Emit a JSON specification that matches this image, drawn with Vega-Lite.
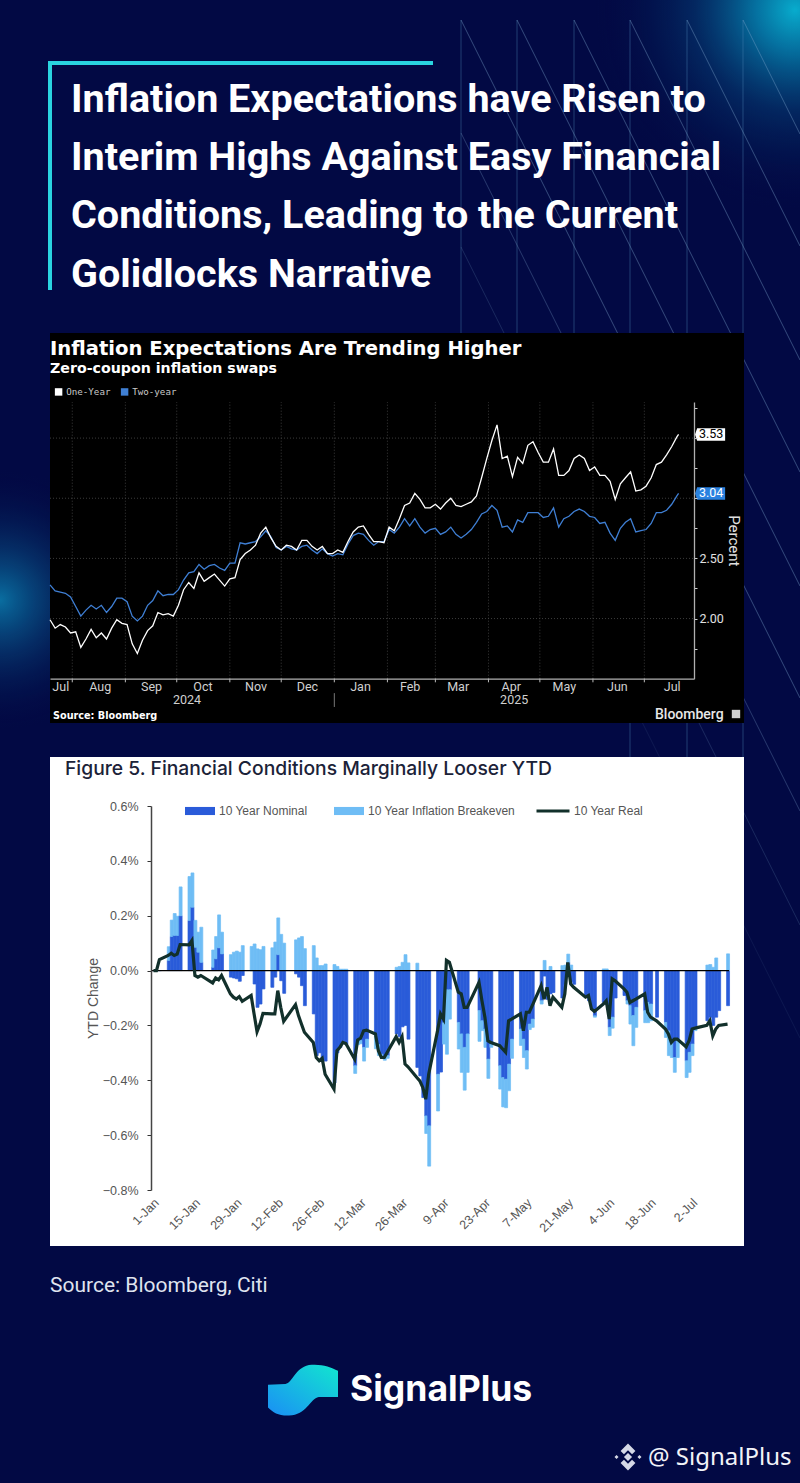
{"$schema":"https://vega.github.io/schema/vega-lite/v6.json","width":800,"height":1483,"padding":0,"autosize":"none","background":"#020944","view":{"stroke":null},
"data":{"values":[{}]},
"datasets":{
"months":[{"date":"2024-08-01"},{"date":"2024-09-01"},{"date":"2024-10-01"},{"date":"2024-11-01"},{"date":"2024-12-01"},{"date":"2025-01-01"},{"date":"2025-02-01"},{"date":"2025-03-01"},{"date":"2025-04-01"},{"date":"2025-05-01"},{"date":"2025-06-01"},{"date":"2025-07-01"}],
"levels":[{"level":2},{"level":2.5},{"level":3},{"level":3.5}],
"tags":[{"series":"One-Year","last":3.53},{"series":"Two-year","last":3.04}],
"swaps":[{"date":"2024-07-19","One-Year":1.99,"Two-year":2.28},{"date":"2024-07-22","One-Year":1.92,"Two-year":2.23},{"date":"2024-07-25","One-Year":1.95,"Two-year":2.22},{"date":"2024-07-28","One-Year":1.93,"Two-year":2.21},{"date":"2024-07-31","One-Year":1.88,"Two-year":2.18},{"date":"2024-08-03","One-Year":1.89,"Two-year":2.10},{"date":"2024-08-06","One-Year":1.76,"Two-year":2.02},{"date":"2024-08-09","One-Year":1.83,"Two-year":2.07},{"date":"2024-08-12","One-Year":1.91,"Two-year":2.11},{"date":"2024-08-15","One-Year":1.84,"Two-year":2.08},{"date":"2024-08-18","One-Year":1.88,"Two-year":2.11},{"date":"2024-08-21","One-Year":1.83,"Two-year":2.05},{"date":"2024-08-24","One-Year":1.92,"Two-year":2.10},{"date":"2024-08-27","One-Year":1.99,"Two-year":2.17},{"date":"2024-08-30","One-Year":1.96,"Two-year":2.17},{"date":"2024-09-02","One-Year":1.95,"Two-year":2.14},{"date":"2024-09-05","One-Year":1.79,"Two-year":2.02},{"date":"2024-09-08","One-Year":1.71,"Two-year":1.98},{"date":"2024-09-11","One-Year":1.82,"Two-year":2.02},{"date":"2024-09-14","One-Year":1.90,"Two-year":2.11},{"date":"2024-09-17","One-Year":1.94,"Two-year":2.15},{"date":"2024-09-20","One-Year":2.05,"Two-year":2.23},{"date":"2024-09-23","One-Year":2.03,"Two-year":2.19},{"date":"2024-09-26","One-Year":2.04,"Two-year":2.20},{"date":"2024-09-29","One-Year":2.02,"Two-year":2.20},{"date":"2024-10-02","One-Year":2.11,"Two-year":2.24},{"date":"2024-10-05","One-Year":2.24,"Two-year":2.32},{"date":"2024-10-08","One-Year":2.30,"Two-year":2.38},{"date":"2024-10-11","One-Year":2.25,"Two-year":2.39},{"date":"2024-10-14","One-Year":2.38,"Two-year":2.45},{"date":"2024-10-17","One-Year":2.31,"Two-year":2.41},{"date":"2024-10-20","One-Year":2.34,"Two-year":2.44},{"date":"2024-10-23","One-Year":2.37,"Two-year":2.45},{"date":"2024-10-26","One-Year":2.32,"Two-year":2.42},{"date":"2024-10-29","One-Year":2.27,"Two-year":2.40},{"date":"2024-11-01","One-Year":2.33,"Two-year":2.46},{"date":"2024-11-04","One-Year":2.34,"Two-year":2.46},{"date":"2024-11-07","One-Year":2.49,"Two-year":2.63},{"date":"2024-11-10","One-Year":2.54,"Two-year":2.62},{"date":"2024-11-13","One-Year":2.57,"Two-year":2.63},{"date":"2024-11-16","One-Year":2.61,"Two-year":2.64},{"date":"2024-11-19","One-Year":2.71,"Two-year":2.68},{"date":"2024-11-22","One-Year":2.76,"Two-year":2.73},{"date":"2024-11-25","One-Year":2.67,"Two-year":2.68},{"date":"2024-11-28","One-Year":2.60,"Two-year":2.59},{"date":"2024-12-01","One-Year":2.57,"Two-year":2.57},{"date":"2024-12-04","One-Year":2.61,"Two-year":2.60},{"date":"2024-12-07","One-Year":2.60,"Two-year":2.58},{"date":"2024-12-10","One-Year":2.57,"Two-year":2.57},{"date":"2024-12-13","One-Year":2.65,"Two-year":2.60},{"date":"2024-12-16","One-Year":2.65,"Two-year":2.61},{"date":"2024-12-19","One-Year":2.60,"Two-year":2.57},{"date":"2024-12-22","One-Year":2.57,"Two-year":2.54},{"date":"2024-12-25","One-Year":2.60,"Two-year":2.58},{"date":"2024-12-28","One-Year":2.54,"Two-year":2.54},{"date":"2024-12-31","One-Year":2.54,"Two-year":2.52},{"date":"2025-01-03","One-Year":2.57,"Two-year":2.54},{"date":"2025-01-06","One-Year":2.55,"Two-year":2.53},{"date":"2025-01-09","One-Year":2.64,"Two-year":2.62},{"date":"2025-01-12","One-Year":2.72,"Two-year":2.69},{"date":"2025-01-15","One-Year":2.76,"Two-year":2.71},{"date":"2025-01-18","One-Year":2.77,"Two-year":2.70},{"date":"2025-01-21","One-Year":2.70,"Two-year":2.65},{"date":"2025-01-24","One-Year":2.64,"Two-year":2.61},{"date":"2025-01-27","One-Year":2.64,"Two-year":2.64},{"date":"2025-01-30","One-Year":2.63,"Two-year":2.64},{"date":"2025-02-02","One-Year":2.76,"Two-year":2.74},{"date":"2025-02-05","One-Year":2.73,"Two-year":2.71},{"date":"2025-02-08","One-Year":2.83,"Two-year":2.76},{"date":"2025-02-11","One-Year":2.94,"Two-year":2.83},{"date":"2025-02-14","One-Year":2.96,"Two-year":2.77},{"date":"2025-02-17","One-Year":3.04,"Two-year":2.83},{"date":"2025-02-20","One-Year":2.99,"Two-year":2.76},{"date":"2025-02-23","One-Year":2.92,"Two-year":2.71},{"date":"2025-02-26","One-Year":2.92,"Two-year":2.74},{"date":"2025-03-01","One-Year":2.95,"Two-year":2.75},{"date":"2025-03-04","One-Year":2.91,"Two-year":2.70},{"date":"2025-03-07","One-Year":2.96,"Two-year":2.72},{"date":"2025-03-10","One-Year":3.00,"Two-year":2.76},{"date":"2025-03-13","One-Year":2.94,"Two-year":2.70},{"date":"2025-03-16","One-Year":2.93,"Two-year":2.67},{"date":"2025-03-19","One-Year":2.95,"Two-year":2.70},{"date":"2025-03-22","One-Year":2.97,"Two-year":2.74},{"date":"2025-03-25","One-Year":3.02,"Two-year":2.80},{"date":"2025-03-28","One-Year":3.17,"Two-year":2.87},{"date":"2025-03-31","One-Year":3.33,"Two-year":2.89},{"date":"2025-04-03","One-Year":3.48,"Two-year":2.94},{"date":"2025-04-06","One-Year":3.61,"Two-year":2.90},{"date":"2025-04-09","One-Year":3.33,"Two-year":2.76},{"date":"2025-04-12","One-Year":3.35,"Two-year":2.77},{"date":"2025-04-15","One-Year":3.18,"Two-year":2.72},{"date":"2025-04-18","One-Year":3.34,"Two-year":2.82},{"date":"2025-04-21","One-Year":3.29,"Two-year":2.80},{"date":"2025-04-24","One-Year":3.44,"Two-year":2.88},{"date":"2025-04-27","One-Year":3.47,"Two-year":2.88},{"date":"2025-04-30","One-Year":3.38,"Two-year":2.88},{"date":"2025-05-03","One-Year":3.30,"Two-year":2.84},{"date":"2025-05-06","One-Year":3.30,"Two-year":2.85},{"date":"2025-05-09","One-Year":3.41,"Two-year":2.92},{"date":"2025-05-12","One-Year":3.19,"Two-year":2.76},{"date":"2025-05-15","One-Year":3.19,"Two-year":2.83},{"date":"2025-05-18","One-Year":3.23,"Two-year":2.85},{"date":"2025-05-21","One-Year":3.33,"Two-year":2.89},{"date":"2025-05-24","One-Year":3.36,"Two-year":2.91},{"date":"2025-05-27","One-Year":3.33,"Two-year":2.89},{"date":"2025-05-30","One-Year":3.23,"Two-year":2.85},{"date":"2025-06-02","One-Year":3.26,"Two-year":2.84},{"date":"2025-06-05","One-Year":3.19,"Two-year":2.79},{"date":"2025-06-08","One-Year":3.19,"Two-year":2.80},{"date":"2025-06-11","One-Year":3.14,"Two-year":2.71},{"date":"2025-06-14","One-Year":2.99,"Two-year":2.65},{"date":"2025-06-17","One-Year":3.12,"Two-year":2.75},{"date":"2025-06-20","One-Year":3.17,"Two-year":2.80},{"date":"2025-06-23","One-Year":3.22,"Two-year":2.83},{"date":"2025-06-26","One-Year":3.06,"Two-year":2.72},{"date":"2025-06-29","One-Year":3.07,"Two-year":2.73},{"date":"2025-07-02","One-Year":3.10,"Two-year":2.74},{"date":"2025-07-05","One-Year":3.17,"Two-year":2.79},{"date":"2025-07-08","One-Year":3.28,"Two-year":2.88},{"date":"2025-07-11","One-Year":3.30,"Two-year":2.88},{"date":"2025-07-14","One-Year":3.36,"Two-year":2.90},{"date":"2025-07-17","One-Year":3.43,"Two-year":2.95},{"date":"2025-07-20","One-Year":3.51,"Two-year":3.02},{"date":"2025-07-21","One-Year":3.53,"Two-year":3.04}],
"ytd":[{"date":"2025-01-01","Nominal":0,"Breakeven":0,"Real":0},{"date":"2025-01-02","Nominal":0,"Breakeven":0,"Real":0},{"date":"2025-01-03","Nominal":0,"Breakeven":0,"Real":0.04},{"date":"2025-01-06","Nominal":0.037,"Breakeven":0.05,"Real":0.055},{"date":"2025-01-07","Nominal":0.124,"Breakeven":0.06,"Real":0.063},{"date":"2025-01-08","Nominal":0.128,"Breakeven":0.08,"Real":0.055},{"date":"2025-01-09","Nominal":0.128,"Breakeven":0.07,"Real":0.06},{"date":"2025-01-10","Nominal":0.2,"Breakeven":0.105,"Real":0.095},{"date":"2025-01-13","Nominal":0.183,"Breakeven":0.16,"Real":0.094},{"date":"2025-01-14","Nominal":0.231,"Breakeven":0.125,"Real":0.11},{"date":"2025-01-15","Nominal":0.085,"Breakeven":0.098,"Real":-0.018},{"date":"2025-01-16","Nominal":0.067,"Breakeven":0.073,"Real":-0.024},{"date":"2025-01-17","Nominal":0.03,"Breakeven":0.128,"Real":-0.018},{"date":"2025-01-21","Nominal":0.012,"Breakeven":0.063,"Real":-0.045},{"date":"2025-01-22","Nominal":0.043,"Breakeven":0.081,"Real":-0.027},{"date":"2025-01-23","Nominal":0.083,"Breakeven":0.12,"Real":-0.034},{"date":"2025-01-24","Nominal":0.061,"Breakeven":0.079,"Real":-0.018},{"date":"2025-01-27","Nominal":-0.024,"Breakeven":0.058,"Real":-0.085},{"date":"2025-01-28","Nominal":-0.027,"Breakeven":0.067,"Real":-0.097},{"date":"2025-01-29","Nominal":-0.03,"Breakeven":0.071,"Real":-0.104},{"date":"2025-01-30","Nominal":-0.039,"Breakeven":0.067,"Real":-0.095},{"date":"2025-01-31","Nominal":-0.018,"Breakeven":0.091,"Real":-0.112},{"date":"2025-02-03","Nominal":0,"Breakeven":0.088,"Real":-0.091},{"date":"2025-02-04","Nominal":-0.049,"Breakeven":0.097,"Real":-0.158},{"date":"2025-02-05","Nominal":-0.134,"Breakeven":0.079,"Real":-0.223},{"date":"2025-02-06","Nominal":-0.122,"Breakeven":0.076,"Real":-0.195},{"date":"2025-02-07","Nominal":-0.067,"Breakeven":0.088,"Real":-0.156},{"date":"2025-02-10","Nominal":-0.061,"Breakeven":0.083,"Real":-0.158},{"date":"2025-02-11","Nominal":-0.024,"Breakeven":0.104,"Real":-0.158},{"date":"2025-02-12","Nominal":0.058,"Breakeven":0.134,"Real":-0.073},{"date":"2025-02-13","Nominal":-0.037,"Breakeven":0.132,"Real":-0.134},{"date":"2025-02-14","Nominal":-0.083,"Breakeven":0.1,"Real":-0.185},{"date":"2025-02-18","Nominal":-0.012,"Breakeven":0.112,"Real":-0.124},{"date":"2025-02-19","Nominal":-0.024,"Breakeven":0.119,"Real":-0.164},{"date":"2025-02-20","Nominal":-0.055,"Breakeven":0.124,"Real":-0.195},{"date":"2025-02-21","Nominal":-0.128,"Breakeven":0.08,"Real":-0.225},{"date":"2025-02-24","Nominal":-0.158,"Breakeven":0.091,"Real":-0.262},{"date":"2025-02-25","Nominal":-0.31,"Breakeven":0.046,"Real":-0.317},{"date":"2025-02-26","Nominal":-0.3,"Breakeven":0.018,"Real":-0.329},{"date":"2025-02-27","Nominal":-0.325,"Breakeven":0.018,"Real":-0.32},{"date":"2025-02-28","Nominal":-0.33,"Breakeven":0.024,"Real":-0.378},{"date":"2025-03-03","Nominal":-0.41,"Breakeven":0.022,"Real":-0.432},{"date":"2025-03-04","Nominal":-0.3,"Breakeven":0.015,"Real":-0.292},{"date":"2025-03-05","Nominal":-0.28,"Breakeven":0.005,"Real":-0.28},{"date":"2025-03-06","Nominal":-0.26,"Breakeven":0.005,"Real":-0.262},{"date":"2025-03-07","Nominal":-0.27,"Breakeven":0.005,"Real":-0.266},{"date":"2025-03-10","Nominal":-0.347,"Breakeven":-0.028,"Real":-0.323},{"date":"2025-03-11","Nominal":-0.26,"Breakeven":-0.01,"Real":-0.253},{"date":"2025-03-12","Nominal":-0.255,"Breakeven":-0.012,"Real":-0.246},{"date":"2025-03-13","Nominal":-0.28,"Breakeven":-0.05,"Real":-0.22},{"date":"2025-03-14","Nominal":-0.25,"Breakeven":-0.03,"Real":-0.217},{"date":"2025-03-17","Nominal":-0.235,"Breakeven":-0.05,"Real":-0.231},{"date":"2025-03-18","Nominal":-0.27,"Breakeven":-0.04,"Real":-0.292},{"date":"2025-03-19","Nominal":-0.305,"Breakeven":-0.015,"Real":-0.317},{"date":"2025-03-20","Nominal":-0.315,"Breakeven":-0.012,"Real":-0.317},{"date":"2025-03-21","Nominal":-0.31,"Breakeven":-0.01,"Real":-0.298},{"date":"2025-03-24","Nominal":-0.231,"Breakeven":0.012,"Real":-0.241},{"date":"2025-03-25","Nominal":-0.241,"Breakeven":0.015,"Real":-0.262},{"date":"2025-03-26","Nominal":-0.205,"Breakeven":0.03,"Real":-0.241},{"date":"2025-03-27","Nominal":-0.2,"Breakeven":0.058,"Real":-0.341},{"date":"2025-03-28","Nominal":-0.25,"Breakeven":0.028,"Real":-0.351},{"date":"2025-03-31","Nominal":-0.353,"Breakeven":0.027,"Real":-0.39},{"date":"2025-04-01","Nominal":-0.384,"Breakeven":0,"Real":-0.402},{"date":"2025-04-02","Nominal":-0.463,"Breakeven":0,"Real":-0.426},{"date":"2025-04-03","Nominal":-0.53,"Breakeven":-0.064,"Real":-0.469},{"date":"2025-04-04","Nominal":-0.566,"Breakeven":-0.147,"Real":-0.378},{"date":"2025-04-07","Nominal":-0.378,"Breakeven":-0.134,"Real":-0.219},{"date":"2025-04-08","Nominal":-0.37,"Breakeven":0,"Real":-0.158},{"date":"2025-04-09","Nominal":-0.19,"Breakeven":-0.078,"Real":-0.177},{"date":"2025-04-10","Nominal":-0.07,"Breakeven":-0.235,"Real":0.037},{"date":"2025-04-11","Nominal":-0.07,"Breakeven":-0.107,"Real":0.03},{"date":"2025-04-14","Nominal":-0.189,"Breakeven":-0.097,"Real":-0.079},{"date":"2025-04-15","Nominal":-0.231,"Breakeven":-0.14,"Real":-0.085},{"date":"2025-04-16","Nominal":-0.28,"Breakeven":-0.156,"Real":-0.134},{"date":"2025-04-17","Nominal":-0.231,"Breakeven":-0.14,"Real":-0.134},{"date":"2025-04-21","Nominal":-0.146,"Breakeven":-0.112,"Real":-0.043},{"date":"2025-04-22","Nominal":-0.183,"Breakeven":-0.036,"Real":-0.11},{"date":"2025-04-23","Nominal":-0.213,"Breakeven":-0.067,"Real":-0.17},{"date":"2025-04-24","Nominal":-0.323,"Breakeven":-0.07,"Real":-0.256},{"date":"2025-04-25","Nominal":-0.268,"Breakeven":-0.012,"Real":-0.262},{"date":"2025-04-28","Nominal":-0.347,"Breakeven":-0.085,"Real":-0.274},{"date":"2025-04-29","Nominal":-0.39,"Breakeven":-0.107,"Real":-0.286},{"date":"2025-04-30","Nominal":-0.396,"Breakeven":-0.104,"Real":-0.298},{"date":"2025-05-01","Nominal":-0.341,"Breakeven":-0.097,"Real":-0.183},{"date":"2025-05-02","Nominal":-0.25,"Breakeven":-0.07,"Real":-0.177},{"date":"2025-05-05","Nominal":-0.213,"Breakeven":-0.06,"Real":-0.158},{"date":"2025-05-06","Nominal":-0.25,"Breakeven":-0.067,"Real":-0.219},{"date":"2025-05-07","Nominal":-0.292,"Breakeven":-0.067,"Real":-0.152},{"date":"2025-05-08","Nominal":-0.195,"Breakeven":-0.02,"Real":-0.152},{"date":"2025-05-09","Nominal":-0.177,"Breakeven":-0.03,"Real":-0.128},{"date":"2025-05-12","Nominal":-0.11,"Breakeven":-0.012,"Real":-0.055},{"date":"2025-05-13","Nominal":-0.02,"Breakeven":0.037,"Real":-0.104},{"date":"2025-05-14","Nominal":-0.105,"Breakeven":0,"Real":-0.061},{"date":"2025-05-15","Nominal":-0.085,"Breakeven":0.015,"Real":-0.128},{"date":"2025-05-16","Nominal":-0.08,"Breakeven":0,"Real":-0.097},{"date":"2025-05-19","Nominal":-0.1,"Breakeven":0.018,"Real":-0.134},{"date":"2025-05-20","Nominal":-0.05,"Breakeven":0.02,"Real":-0.085},{"date":"2025-05-21","Nominal":0.03,"Breakeven":0.03,"Real":0.03},{"date":"2025-05-22","Nominal":-0.04,"Breakeven":0.02,"Real":-0.049},{"date":"2025-05-23","Nominal":-0.05,"Breakeven":0,"Real":-0.061},{"date":"2025-05-27","Nominal":-0.09,"Breakeven":0,"Real":-0.097},{"date":"2025-05-28","Nominal":-0.11,"Breakeven":0,"Real":-0.091},{"date":"2025-05-29","Nominal":-0.14,"Breakeven":0,"Real":-0.14},{"date":"2025-05-30","Nominal":-0.165,"Breakeven":-0.005,"Real":-0.149},{"date":"2025-06-02","Nominal":-0.116,"Breakeven":0.006,"Real":-0.122},{"date":"2025-06-03","Nominal":-0.122,"Breakeven":0.006,"Real":-0.11},{"date":"2025-06-04","Nominal":-0.207,"Breakeven":-0.03,"Real":-0.177},{"date":"2025-06-05","Nominal":-0.17,"Breakeven":-0.04,"Real":-0.03},{"date":"2025-06-06","Nominal":-0.1,"Breakeven":0,"Real":-0.037},{"date":"2025-06-09","Nominal":-0.091,"Breakeven":0,"Real":-0.067},{"date":"2025-06-10","Nominal":-0.11,"Breakeven":-0.012,"Real":-0.079},{"date":"2025-06-11","Nominal":-0.128,"Breakeven":-0.067,"Real":-0.116},{"date":"2025-06-12","Nominal":-0.164,"Breakeven":-0.11,"Real":-0.11},{"date":"2025-06-13","Nominal":-0.134,"Breakeven":-0.073,"Real":-0.104},{"date":"2025-06-16","Nominal":-0.146,"Breakeven":-0.044,"Real":-0.085},{"date":"2025-06-17","Nominal":-0.116,"Breakeven":-0.074,"Real":-0.152},{"date":"2025-06-18","Nominal":-0.122,"Breakeven":-0.061,"Real":-0.17},{"date":"2025-06-20","Nominal":-0.17,"Breakeven":0,"Real":-0.183},{"date":"2025-06-23","Nominal":-0.189,"Breakeven":-0.055,"Real":-0.213},{"date":"2025-06-24","Nominal":-0.22,"Breakeven":-0.09,"Real":-0.231},{"date":"2025-06-25","Nominal":-0.262,"Breakeven":-0.055,"Real":-0.262},{"date":"2025-06-26","Nominal":-0.317,"Breakeven":-0.054,"Real":-0.25},{"date":"2025-06-27","Nominal":-0.256,"Breakeven":-0.061,"Real":-0.25},{"date":"2025-06-30","Nominal":-0.329,"Breakeven":-0.061,"Real":-0.278},{"date":"2025-07-01","Nominal":-0.298,"Breakeven":-0.073,"Real":-0.256},{"date":"2025-07-02","Nominal":-0.268,"Breakeven":-0.042,"Real":-0.213},{"date":"2025-07-03","Nominal":-0.207,"Breakeven":-0.012,"Real":-0.21},{"date":"2025-07-07","Nominal":-0.183,"Breakeven":0.02,"Real":-0.2},{"date":"2025-07-08","Nominal":-0.17,"Breakeven":0.022,"Real":-0.183},{"date":"2025-07-09","Nominal":-0.2,"Breakeven":0.012,"Real":-0.238},{"date":"2025-07-10","Nominal":-0.17,"Breakeven":0.046,"Real":-0.213},{"date":"2025-07-11","Nominal":-0.146,"Breakeven":0,"Real":-0.2},{"date":"2025-07-14","Nominal":-0.128,"Breakeven":0.061,"Real":-0.195}]
},
"layer":[
{"layer":[
{"mark":{"type":"rect","fill":{"gradient":"radial","x1":0.5,"y1":0.5,"r1":0,"x2":0.5,"y2":0.5,"r2":0.5,"stops":[{"offset":0,"color":"rgba(8,172,205,1)"},{"offset":0.2,"color":"rgba(6,130,175,0.85)"},{"offset":0.5,"color":"rgba(4,65,120,0.55)"},{"offset":1,"color":"rgba(2,9,68,0)"}]}},"encoding":{"x":{"datum":595,"axis":null,"scale":{"domain":[0,800],"range":[0,800],"nice":false,"zero":false}},"x2":{"datum":995},"y":{"datum":-190,"axis":null,"scale":{"domain":[0,1483],"range":[0,1483],"nice":false,"zero":false}},"y2":{"datum":210}}},
{"mark":{"type":"rect","fill":{"gradient":"radial","x1":0.5,"y1":0.5,"r1":0,"x2":0.5,"y2":0.5,"r2":0.5,"stops":[{"offset":0,"color":"rgba(10,115,165,0.95)"},{"offset":0.45,"color":"rgba(6,60,115,0.6)"},{"offset":1,"color":"rgba(2,9,68,0)"}]}},"encoding":{"x":{"datum":-130,"axis":null},"x2":{"datum":130},"y":{"datum":470,"axis":null},"y2":{"datum":730}}},
{"mark":{"type":"rule","stroke":"#4f86b8","strokeWidth":0.7,"opacity":0.6},"encoding":{"x":{"datum":461,"axis":null},"x2":{"datum":461},"y":{"datum":20,"axis":null},"y2":{"datum":340}}},
{"mark":{"type":"rule","stroke":"#4f86b8","strokeWidth":0.7,"opacity":0.6},"encoding":{"x":{"datum":517,"axis":null},"x2":{"datum":517},"y":{"datum":20,"axis":null},"y2":{"datum":340}}},
{"mark":{"type":"rule","stroke":"#4f86b8","strokeWidth":0.7,"opacity":0.6},"encoding":{"x":{"datum":574,"axis":null},"x2":{"datum":574},"y":{"datum":20,"axis":null},"y2":{"datum":340}}},
{"mark":{"type":"rule","stroke":"#4f86b8","strokeWidth":0.7,"opacity":0.6},"encoding":{"x":{"datum":630,"axis":null},"x2":{"datum":630},"y":{"datum":20,"axis":null},"y2":{"datum":757}}},
{"mark":{"type":"rule","stroke":"#4f86b8","strokeWidth":0.7,"opacity":0.6},"encoding":{"x":{"datum":687,"axis":null},"x2":{"datum":687},"y":{"datum":20,"axis":null},"y2":{"datum":757}}},
{"mark":{"type":"rule","stroke":"#4f86b8","strokeWidth":0.7,"opacity":0.6},"encoding":{"x":{"datum":743,"axis":null},"x2":{"datum":743},"y":{"datum":20,"axis":null},"y2":{"datum":757}}},
{"mark":{"type":"rule","stroke":"#7fa6cc","strokeWidth":0.7,"opacity":0.6},"encoding":{"x":{"datum":461,"axis":null},"x2":{"datum":800},"y":{"datum":20,"axis":null},"y2":{"datum":698}}},
{"mark":{"type":"rule","stroke":"#7fa6cc","strokeWidth":0.7,"opacity":0.6},"encoding":{"x":{"datum":517,"axis":null},"x2":{"datum":800},"y":{"datum":20,"axis":null},"y2":{"datum":586}}},
{"mark":{"type":"rule","stroke":"#7fa6cc","strokeWidth":0.7,"opacity":0.6},"encoding":{"x":{"datum":574,"axis":null},"x2":{"datum":800},"y":{"datum":20,"axis":null},"y2":{"datum":472}}},
{"mark":{"type":"rule","stroke":"#7fa6cc","strokeWidth":0.7,"opacity":0.6},"encoding":{"x":{"datum":630,"axis":null},"x2":{"datum":800},"y":{"datum":20,"axis":null},"y2":{"datum":360}}},
{"mark":{"type":"rule","stroke":"#7fa6cc","strokeWidth":0.7,"opacity":0.6},"encoding":{"x":{"datum":687,"axis":null},"x2":{"datum":800},"y":{"datum":20,"axis":null},"y2":{"datum":246}}},
{"mark":{"type":"rule","stroke":"#7fa6cc","strokeWidth":0.7,"opacity":0.6},"encoding":{"x":{"datum":743,"axis":null},"x2":{"datum":800},"y":{"datum":20,"axis":null},"y2":{"datum":134}}},
{"mark":{"type":"rule","stroke":"#7fa6cc","strokeWidth":0.7,"opacity":0.45},"encoding":{"x":{"datum":461,"axis":null},"x2":{"datum":800},"y":{"datum":133,"axis":null},"y2":{"datum":811}}},
{"mark":{"type":"rule","stroke":"#7fa6cc","strokeWidth":0.7,"opacity":0.3},"encoding":{"x":{"datum":461,"axis":null},"x2":{"datum":800},"y":{"datum":247,"axis":null},"y2":{"datum":925}}},
{"mark":{"type":"rule","stroke":"#7fa6cc","strokeWidth":0.7,"opacity":0.15},"encoding":{"x":{"datum":461,"axis":null},"x2":{"datum":800},"y":{"datum":360,"axis":null},"y2":{"datum":1038}}},
{"mark":{"type":"rect","fill":"#000"},"encoding":{"x":{"datum":50,"axis":null},"x2":{"datum":744},"y":{"datum":333,"axis":null},"y2":{"datum":723}}},
{"mark":{"type":"rect","fill":"#fff"},"encoding":{"x":{"datum":50,"axis":null},"x2":{"datum":744},"y":{"datum":757,"axis":null},"y2":{"datum":1246}}},
{"mark":{"type":"rule","stroke":"#2ad4e0","strokeWidth":4},"encoding":{"x":{"datum":48,"axis":null},"x2":{"datum":433},"y":{"datum":63,"axis":null},"y2":{"datum":63}}},
{"mark":{"type":"rule","stroke":"#2ad4e0","strokeWidth":4},"encoding":{"x":{"datum":50,"axis":null},"x2":{"datum":50},"y":{"datum":63,"axis":null},"y2":{"datum":290}}},
{"mark":{"type":"text","font":"Roboto","fontWeight":700,"fontSize":39.5,"fill":"#ffffff","align":"left","baseline":"middle"},"encoding":{"x":{"datum":71,"axis":null},"y":{"datum":99.5,"axis":null},"text":{"value":"Inflation Expectations have Risen to"}}},
{"mark":{"type":"text","font":"Roboto","fontWeight":700,"fontSize":39.5,"fill":"#ffffff","align":"left","baseline":"middle"},"encoding":{"x":{"datum":71,"axis":null},"y":{"datum":157.5,"axis":null},"text":{"value":"Interim Highs Against Easy Financial"}}},
{"mark":{"type":"text","font":"Roboto","fontWeight":700,"fontSize":39.5,"fill":"#ffffff","align":"left","baseline":"middle"},"encoding":{"x":{"datum":71,"axis":null},"y":{"datum":215.5,"axis":null},"text":{"value":"Conditions, Leading to the Current"}}},
{"mark":{"type":"text","font":"Roboto","fontWeight":700,"fontSize":39.5,"fill":"#ffffff","align":"left","baseline":"middle"},"encoding":{"x":{"datum":71,"axis":null},"y":{"datum":274.5,"axis":null},"text":{"value":"Golidlocks Narrative"}}},
{"mark":{"type":"text","font":"DejaVu Sans","fontWeight":700,"fontSize":19.6,"fill":"#ffffff","align":"left","baseline":"middle"},"encoding":{"x":{"datum":50,"axis":null},"y":{"datum":349,"axis":null},"text":{"value":"Inflation Expectations Are Trending Higher"}}},
{"mark":{"type":"text","font":"DejaVu Sans","fontWeight":700,"fontSize":14.2,"fill":"#ffffff","align":"left","baseline":"middle"},"encoding":{"x":{"datum":50,"axis":null},"y":{"datum":369,"axis":null},"text":{"value":"Zero-coupon inflation swaps"}}},
{"mark":{"type":"text","font":"DejaVu Sans","fontWeight":700,"fontSize":9.7,"fill":"#ffffff","align":"left","baseline":"middle"},"encoding":{"x":{"datum":53,"axis":null},"y":{"datum":716,"axis":null},"text":{"value":"Source: Bloomberg"}}},
{"mark":{"type":"text","font":"Roboto","fontWeight":500,"fontSize":14,"fill":"#e8e8e8","align":"left","baseline":"middle"},"encoding":{"x":{"datum":655,"axis":null},"y":{"datum":715,"axis":null},"text":{"value":"Bloomberg"}}},
{"mark":{"type":"point","shape":"square","filled":true,"opacity":1,"size":70,"fill":"#cfcfcf","stroke":null},"encoding":{"x":{"datum":736,"axis":null},"y":{"datum":714,"axis":null}}},
{"mark":{"type":"text","font":"Inter","fontWeight":500,"fontSize":19.3,"fill":"#1b2238","align":"left","baseline":"middle"},"encoding":{"x":{"datum":65,"axis":null},"y":{"datum":769,"axis":null},"text":{"value":"Figure 5. Financial Conditions Marginally Looser YTD"}}},
{"mark":{"type":"text","font":"Roboto","fontWeight":400,"fontSize":21,"fill":"#dfe3ee","align":"left","baseline":"middle"},"encoding":{"x":{"datum":50,"axis":null},"y":{"datum":1286,"axis":null},"text":{"value":"Source: Bloomberg, Citi"}}},
{"mark":{"type":"point","filled":true,"opacity":1,"size":4900,"stroke":null,"shape":"M-1,-.15 L-.5,-.17 C-.3,-.2 -.2,-.7 .25,-.72 C.55,-.74 .8,-.65 1,-.55 L1,.2 L.45,.2 C.2,.25 .1,.72 -.4,.73 C-.7,.74 -.85,.65 -1,.5 Z","fill":{"gradient":"linear","x1":0,"y1":1,"x2":1,"y2":0,"stops":[{"offset":0,"color":"#1a8ff5"},{"offset":1,"color":"#12e6cf"}]}},"encoding":{"x":{"datum":303,"axis":null},"y":{"datum":1390,"axis":null}}},
{"mark":{"type":"text","font":"Inter","fontWeight":700,"fontSize":35.5,"fill":"#ffffff","align":"left","baseline":"middle"},"encoding":{"x":{"datum":350,"axis":null},"y":{"datum":1390,"axis":null},"text":{"value":"SignalPlus"}}},
{"mark":{"type":"point","filled":true,"opacity":1,"size":729,"stroke":null,"fill":"#d5d8e6","shape":"M0,-1 L.55,-.45 L.3,-.2 L0,-.5 L-.3,-.2 L-.55,-.45 Z M0,1 L.55,.45 L.3,.2 L0,.5 L-.3,.2 L-.55,.45 Z M0,-.3 L.3,0 L0,.3 L-.3,0 Z M-.85,-.15 L-.7,0 L-.85,.15 L-1,0 Z M.85,-.15 L1,0 L.85,.15 L.7,0 Z"},"encoding":{"x":{"datum":628,"axis":null},"y":{"datum":1457,"axis":null}}},
{"mark":{"type":"text","font":"Noto Sans","fontWeight":400,"fontSize":24,"fill":"#f2f3f8","align":"left","baseline":"middle"},"encoding":{"x":{"datum":648,"axis":null},"y":{"datum":1458,"axis":null},"text":{"value":"@ SignalPlus"}}}
]},
{"data":{"name":"months"},"mark":{"type":"rule","stroke":"#4a4a4a","strokeWidth":0.8,"strokeDash":[1,2]},"encoding":{"x":{"field":"date","type":"temporal","axis":null,"scale":{"type":"utc","domain":["2024-07-19","2025-07-30"],"range":[50,694]}},"y":{"datum":1.5,"axis":null,"scale":{"domain":[1.5,3.8],"range":[678.7,402],"nice":false,"zero":false}},"y2":{"datum":3.8}}},
{"data":{"name":"levels"},"mark":{"type":"rule","stroke":"#4a4a4a","strokeWidth":0.8,"strokeDash":[1,2]},"encoding":{"x":{"datum":{"year":2024,"month":7,"date":19,"utc":true},"type":"temporal","axis":null,"scale":{"type":"utc","domain":["2024-07-19","2025-07-30"],"range":[50,694]}},"x2":{"datum":{"year":2025,"month":7,"date":30,"utc":true}},"y":{"field":"level","type":"quantitative","axis":null,"scale":{"domain":[1.5,3.8],"range":[678.7,402],"nice":false,"zero":false}}}},
{"data":{"name":"months"},"mark":{"type":"rule","stroke":"#bbbbbb","strokeWidth":1},"encoding":{"x":{"field":"date","type":"temporal","axis":null,"scale":{"type":"utc","domain":["2024-07-19","2025-07-30"],"range":[50,694]}},"y":{"datum":1.5,"axis":null,"scale":{"domain":[1.5,3.8],"range":[678.7,402],"nice":false,"zero":false}},"y2":{"datum":1.47}}},
{"mark":{"type":"rule","stroke":"#777777","strokeWidth":1},"encoding":{"x":{"datum":{"year":2025,"month":1,"date":1,"utc":true},"type":"temporal","axis":null,"scale":{"type":"utc","domain":["2024-07-19","2025-07-30"],"range":[50,694]}},"y":{"datum":1.38,"axis":null,"scale":{"domain":[1.5,3.8],"range":[678.7,402],"nice":false,"zero":false}},"y2":{"datum":1.265}}},
{"mark":{"type":"text","font":"Roboto","fontSize":12.5,"fill":"#d0d0d0","align":"center","baseline":"middle"},"encoding":{"x":{"datum":{"year":2024,"month":10,"date":7,"utc":true},"type":"temporal","axis":null,"scale":{"type":"utc","domain":["2024-07-19","2025-07-30"],"range":[50,694]}},"y":{"datum":1.323,"axis":null,"scale":{"domain":[1.5,3.8],"range":[678.7,402],"nice":false,"zero":false}},"text":{"value":"2024"}}},
{"mark":{"type":"text","font":"Roboto","fontSize":12.5,"fill":"#d0d0d0","align":"center","baseline":"middle"},"encoding":{"x":{"datum":{"year":2025,"month":4,"date":16,"utc":true},"type":"temporal","axis":null,"scale":{"type":"utc","domain":["2024-07-19","2025-07-30"],"range":[50,694]}},"y":{"datum":1.323,"axis":null,"scale":{"domain":[1.5,3.8],"range":[678.7,402],"nice":false,"zero":false}},"text":{"value":"2025"}}},
{"data":{"name":"swaps"},"transform":[{"fold":["Two-year","One-Year"],"as":["series","rate"]}],"mark":{"type":"line","strokeWidth":1.3,"interpolate":"linear"},"encoding":{
"x":{"field":"date","type":"temporal","title":null,"scale":{"type":"utc","domain":["2024-07-19","2025-07-30"],"range":[50,694]},"axis":{"zindex":1,"orient":"bottom","offset":-804.3,"values":[{"year":2024,"month":7,"date":25,"utc":true},{"year":2024,"month":8,"date":17,"utc":true},{"year":2024,"month":9,"date":16,"utc":true},{"year":2024,"month":10,"date":16,"utc":true},{"year":2024,"month":11,"date":16,"utc":true},{"year":2024,"month":12,"date":16,"utc":true},{"year":2025,"month":1,"date":16,"utc":true},{"year":2025,"month":2,"date":14,"utc":true},{"year":2025,"month":3,"date":14,"utc":true},{"year":2025,"month":4,"date":14,"utc":true},{"year":2025,"month":5,"date":15,"utc":true},{"year":2025,"month":6,"date":15,"utc":true},{"year":2025,"month":7,"date":17,"utc":true}],"labelExpr":"utcFormat(datum.value,'%b')","tickSize":0,"grid":false,"labelColor":"#d0d0d0","labelFont":"Roboto","labelFontSize":12.5,"labelPadding":2,"labelOverlap":false,"labelFlush":false,"domainColor":"#b0b0b0","domainWidth":1.3}},
"y":{"field":"rate","type":"quantitative","title":"Percent","scale":{"domain":[1.5,3.8],"range":[678.7,402],"nice":false,"zero":false},"axis":{"zindex":1,"orient":"right","offset":-106,"values":[1.75,2,2.25,2.5,2.75,3,3.25,3.5,3.75],"labelExpr":"datum.value==2||datum.value==2.5?format(datum.value,'.2f'):''","tickSize":3,"tickColor":"#cccccc","grid":false,"labelColor":"#e0e0e0","labelFont":"Roboto","labelFontSize":12.5,"labelPadding":2,"labelOverlap":false,"labelFlush":false,"domainColor":"#b0b0b0","domainWidth":1.3,"titleColor":"#e0e0e0","titleFont":"Roboto","titleFontSize":15,"titleFontWeight":400,"titlePadding":2}},
"stroke":{"field":"series","type":"nominal","scale":{"domain":["One-Year","Two-year"],"range":["#ffffff","#3f7fd4"]},"legend":{"orient":"none","legendX":54,"legendY":387,"direction":"horizontal","title":null,"symbolType":"square","symbolSize":12,"symbolStrokeWidth":4,"labelColor":"#c8c8c8","labelFont":"DejaVu Sans Mono","labelFontSize":9.2,"labelOffset":3,"columnPadding":3}}}},
{"data":{"name":"tags"},"mark":{"type":"point","filled":true,"opacity":1,"size":784,"stroke":null,"shape":"M-1.15,0 L-1,-.45 L1,-.45 L1,.45 L-1,.45 Z"},"encoding":{"x":{"datum":{"year":2025,"month":8,"date":9,"utc":true},"type":"temporal","axis":null,"scale":{"type":"utc","domain":["2024-07-19","2025-07-30"],"range":[50,694]}},"y":{"field":"last","type":"quantitative","axis":null,"scale":{"domain":[1.5,3.8],"range":[678.7,402],"nice":false,"zero":false}},"fill":{"field":"series","type":"nominal","legend":null,"scale":{"domain":["One-Year","Two-year"],"range":["#ffffff","#2a82e0"]}}}},
{"data":{"name":"tags"},"mark":{"type":"text","font":"Roboto","fontSize":12.5,"align":"center","baseline":"middle"},"encoding":{"x":{"datum":{"year":2025,"month":8,"date":9,"utc":true},"type":"temporal","axis":null,"scale":{"type":"utc","domain":["2024-07-19","2025-07-30"],"range":[50,694]}},"y":{"field":"last","type":"quantitative","axis":null,"scale":{"domain":[1.5,3.8],"range":[678.7,402],"nice":false,"zero":false}},"text":{"field":"last","type":"quantitative","format":".2f"},"fill":{"condition":{"test":"datum.series=='One-Year'","value":"#000000"},"value":"#ffffff"}}},
{"data":{"name":"ytd"},"transform":[{"fold":["Nominal","Breakeven"],"as":["series","change"]}],"mark":{"type":"bar","binSpacing":0,"strokeWidth":0.7},"encoding":{
"x":{"field":"date","type":"temporal","timeUnit":"utcyearmonthdate","title":null,"scale":{"domain":["2025-01-01","2025-07-16"],"range":[152,732]},"axis":{"zindex":1,"orient":"bottom","offset":-293,"values":[{"year":2025,"month":1,"date":1,"utc":true},{"year":2025,"month":1,"date":15,"utc":true},{"year":2025,"month":1,"date":29,"utc":true},{"year":2025,"month":2,"date":12,"utc":true},{"year":2025,"month":2,"date":26,"utc":true},{"year":2025,"month":3,"date":12,"utc":true},{"year":2025,"month":3,"date":26,"utc":true},{"year":2025,"month":4,"date":9,"utc":true},{"year":2025,"month":4,"date":23,"utc":true},{"year":2025,"month":5,"date":7,"utc":true},{"year":2025,"month":5,"date":21,"utc":true},{"year":2025,"month":6,"date":4,"utc":true},{"year":2025,"month":6,"date":18,"utc":true},{"year":2025,"month":7,"date":2,"utc":true}],"labelExpr":"utcFormat(datum.value,'%-d-%b')","domain":false,"ticks":false,"grid":false,"labelAngle":-45,"labelAlign":"right","labelBaseline":"top","labelColor":"#555555","labelFont":"Liberation Sans","labelFontSize":12.5,"labelPadding":6,"labelOverlap":false,"labelFlush":false}},
"y":{"field":"change","type":"quantitative","stack":"zero","title":"YTD Change","scale":{"domain":[-0.8,0.6],"range":[1190,806],"nice":false,"zero":false},"axis":{"zindex":1,"orient":"left","offset":-151,"values":[-0.8,-0.6,-0.4,-0.2,0,0.2,0.4,0.6],"labelExpr":"format(datum.value,'.1f')+'%'","tickSize":4,"tickColor":"#333333","grid":false,"labelColor":"#555555","labelFont":"Liberation Sans","labelFontSize":12.5,"labelPadding":9,"labelFlush":false,"labelOverlap":false,"domainColor":"#444444","domainWidth":1.5,"titleColor":"#555555","titleFont":"Liberation Sans","titleFontSize":14,"titleFontWeight":400,"titlePadding":2}},
"order":{"field":"series","sort":"descending"},
"stroke":{"field":"series","type":"nominal","legend":null,"scale":{"domain":["Nominal","Breakeven"],"range":["#2a5bd9","#6fbdf5"]}},
"fill":{"field":"series","type":"nominal","scale":{"domain":["Nominal","Breakeven"],"range":["#2a5bd9","#6fbdf5"]},"legend":{"orient":"none","legendX":185,"legendY":796,"direction":"horizontal","columns":2,"title":null,"symbolType":"M-1,-.27 L1,-.27 L1,.27 L-1,.27 Z","symbolSize":900,"symbolStrokeWidth":0,"labelColor":"#555555","labelFont":"Liberation Sans","labelFontSize":12,"labelOffset":4,"columnPadding":26,"labelExpr":"datum.label=='Nominal'?'10 Year Nominal':'10 Year Inflation Breakeven'"}}}},
{"mark":{"type":"rule","stroke":"#000000","strokeWidth":1.2},"encoding":{"x":{"datum":{"year":2025,"month":1,"date":1,"utc":true},"type":"temporal","axis":null,"scale":{"type":"utc","domain":["2025-01-01","2025-07-16"],"range":[152,732]}},"x2":{"datum":{"year":2025,"month":7,"date":15,"utc":true}},"y":{"datum":0,"axis":null,"scale":{"domain":[-0.8,0.6],"range":[1190,806],"nice":false,"zero":false}}}},
{"data":{"name":"ytd"},"mark":{"type":"line","strokeWidth":3.2,"interpolate":"linear"},"encoding":{"x":{"field":"date","type":"temporal","timeUnit":"utcyearmonthdate","bandPosition":0.5,"axis":null,"scale":{"domain":["2025-01-01","2025-07-16"],"range":[152,732]}},"y":{"field":"Real","type":"quantitative","axis":null,"scale":{"domain":[-0.8,0.6],"range":[1190,806],"nice":false,"zero":false}},"stroke":{"datum":"10 Year Real","scale":{"domain":["10 Year Real"],"range":["#12302b"]},"legend":{"orient":"none","legendX":535,"legendY":793,"title":null,"symbolType":"stroke","symbolSize":1089,"symbolStrokeWidth":3,"labelColor":"#555555","labelFont":"Liberation Sans","labelFontSize":12,"labelOffset":3}}}}
],
"resolve":{"scale":{"x":"independent","y":"independent","stroke":"independent","fill":"independent"},"axis":{"x":"independent","y":"independent"},"legend":{"stroke":"independent","fill":"independent"}}}
